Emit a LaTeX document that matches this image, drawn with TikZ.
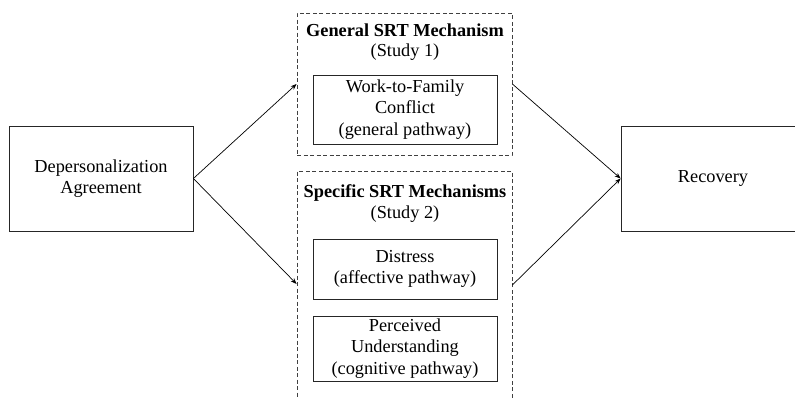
\documentclass[tikz,border=0pt]{standalone}
\usepackage{fontspec}
\setmainfont{Liberation Serif}
\usetikzlibrary{arrows.meta}
\begin{document}
\begin{tikzpicture}[x=1pt,y=-1pt,
  box/.style={draw=black!85, line width=0.8pt, inner sep=0pt, align=center, font=\fontsize{18.3}{21.5}\selectfont},
  dbox/.style={draw=black!75, line width=0.8pt, dashed, dash pattern=on 4pt off 2.5pt, inner sep=0pt},
  lbl/.style={inner sep=0pt, align=center, font=\fontsize{18.3}{21.5}\selectfont},
  conn/.style={line width=0.7pt, -{Stealth[length=6pt,width=4.5pt]}}]
\useasboundingbox (0,0) rectangle (795,397);
\begin{scope}
\clip (0,0) rectangle (795,397);
\node[box, minimum width=184, minimum height=105] (dp) at (101,178.5) {Depersonalization\\Agreement};
\node[box, minimum width=184, minimum height=105] (rec) at (713,178.5) {Recovery};
\node[dbox, minimum width=215, minimum height=142] (gen) at (404.5,84) {};
\node[dbox, minimum width=215, minimum height=239] (spec) at (404.5,290.5) {};
\node[box, minimum width=184, minimum height=69] (wfc) at (405,109.5) {Work-to-Family\\Conflict\\(general pathway)};
\node[box, minimum width=184, minimum height=60] (dis) at (405,269) {Distress\\(affective pathway)};
\node[box, minimum width=184, minimum height=65] (pu) at (405,348.5) {Perceived\\Understanding\\(cognitive pathway)};
\node[lbl, font=\fontsize{18.3}{21.5}\selectfont\bfseries] (gent) at (405,30) {General SRT Mechanism};
\node[lbl] (gens) at (405,52) {(Study 1)};
\node[lbl, font=\fontsize{18.3}{21.5}\selectfont\bfseries] (spect) at (405,193) {Specific SRT Mechanisms};
\node[lbl] (specs) at (405,214) {(Study 2)};
\coordinate (specin) at (spec.west |- 0,284);
\coordinate (specout) at (spec.east |- 0,285);
\draw[conn] (dp.east) -- (gen.west);
\draw[conn] (dp.east) -- (specin);
\draw[conn] (gen.east) -- (rec.west);
\draw[conn] (specout) -- (rec.west);
\end{scope}
\end{tikzpicture}
\end{document}
